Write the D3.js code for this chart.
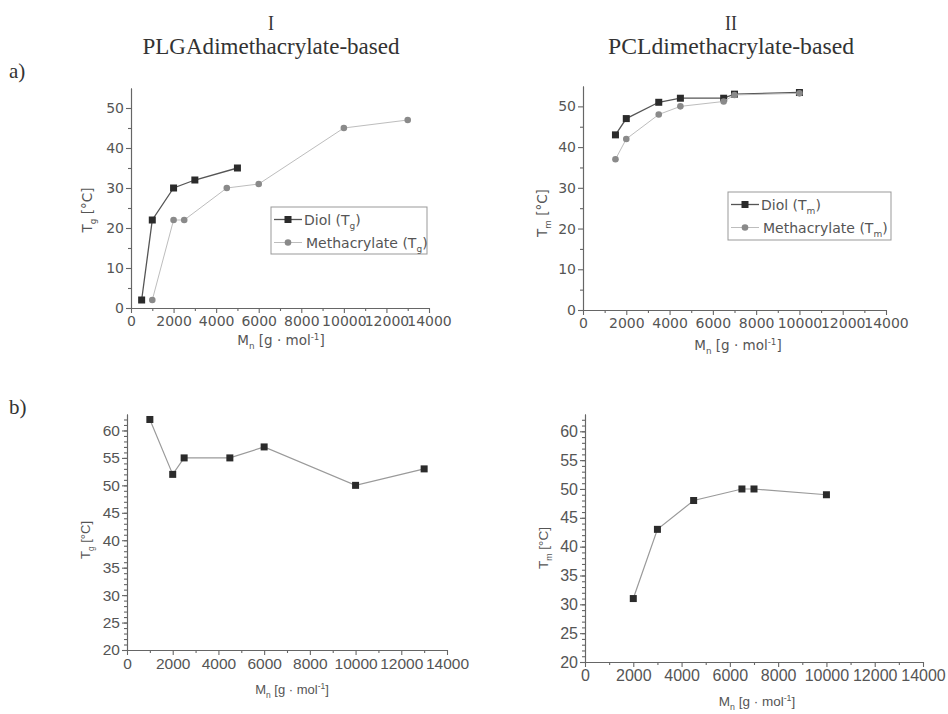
<!DOCTYPE html>
<html lang="en">
<head>
<meta charset="utf-8">
<title>Tg / Tm vs Mn</title>
<style>
  body { margin: 0; background: #fff; }
  .axis path, .axis line { stroke: #666; stroke-width: 1.1; }
  .axis text { fill: #555; }
</style>
</head>
<body>
<svg id="chart" width="948" height="714"></svg>
<script src="https://cdn.jsdelivr.net/npm/d3@7"></script>
<script>
// ---- data ----
var mnDiolI  = [500, 1000, 2000, 3000, 5000];
var tgDiolI  = [2, 22, 30, 32, 35];
var mnMethI  = [1000, 2000, 2500, 4500, 6000, 10000, 13000];
var tgMethI  = [2, 22, 22, 30, 31, 45, 47];

var mnDiolII = [1500, 2000, 3500, 4500, 6500, 7000, 10000];
var tmDiolII = [43, 47, 51, 52, 52, 53, 53.4];
var mnMethII = [1500, 2000, 3500, 4500, 6500, 7000, 10000];
var tmMethII = [37, 42, 48, 50, 51.2, 52.8, 53.2];

var mnNetI   = [1000, 2000, 2500, 4500, 6000, 10000, 13000];
var tgNetI   = [62, 52, 55, 55, 57, 50, 53];
var mnNetII  = [2000, 3000, 4500, 6500, 7000, 10000];
var tmNetII  = [31, 43, 48, 50, 50, 49];

var xTicks   = [0, 2000, 4000, 6000, 8000, 10000, 12000, 14000];
var yTicksA  = [0, 10, 20, 30, 40, 50];
var yTicksB  = [20, 25, 30, 35, 40, 45, 50, 55, 60];

var svg = d3.select('#chart');

function zip(xs, ys) { return xs.map(function (x, i) { return {x: x, y: ys[i]}; }); }

// headings
var serif = '"Liberation Serif", "Times New Roman", serif';
[[271, 'I', 'PLGAdimethacrylate-based'], [731, 'II', 'PCLdimethacrylate-based']].forEach(function (h) {
    svg.append('text').attr('x', h[0]).attr('y', 30).attr('text-anchor', 'middle')
        .style('font-family', serif).style('font-size', '22px').attr('fill', '#333')
        .attr('textLength', h[1].length * 6).attr('lengthAdjust', 'spacingAndGlyphs').text(h[1]);
    svg.append('text').attr('x', h[0]).attr('y', 54).attr('text-anchor', 'middle')
        .style('font-family', serif).style('font-size', '24px').attr('fill', '#333')
        .attr('textLength', h[0] < 500 ? 257 : 246).attr('lengthAdjust', 'spacingAndGlyphs').text(h[2]);
});
svg.append('text').attr('x', 9).attr('y', 78).style('font-family', serif).style('font-size', '21px').attr('fill', '#333').text('a)');
svg.append('text').attr('x', 9).attr('y', 414).style('font-family', serif).style('font-size', '21px').attr('fill', '#333').text('b)');

function panel(cfg) {
    var x = d3.scaleLinear().domain([0, 14000]).range(cfg.xr);
    var y = d3.scaleLinear().domain(cfg.yd).range(cfg.yr);
    var g = svg.append('g');

    // minor ticks
    g.append('g').attr('class', 'axis').attr('transform', 'translate(0,' + cfg.yr[0] + ')')
        .call(d3.axisBottom(x).tickValues(d3.range(1000, 14000, 2000)).tickSize(3).tickSizeOuter(0).tickFormat(''));
    g.append('g').attr('class', 'axis').attr('transform', 'translate(' + cfg.xr[0] + ',0)')
        .call(d3.axisLeft(y).tickValues(cfg.yMinor).tickSize(3).tickSizeOuter(0).tickFormat(''));

    // major axes
    var xa = g.append('g').attr('class', 'axis').attr('transform', 'translate(0,' + cfg.yr[0] + ')')
        .call(d3.axisBottom(x).tickValues(xTicks).tickSize(5).tickSizeOuter(0).tickPadding(cfg.xPad).tickFormat(d3.format('d')));
    var ya = g.append('g').attr('class', 'axis').attr('transform', 'translate(' + cfg.xr[0] + ',0)')
        .call(d3.axisLeft(y).tickValues(cfg.yTicks).tickSize(5).tickSizeOuter(0).tickPadding(2).tickFormat(d3.format('d')));
    [xa, ya].forEach(function (a) {
        a.selectAll('text').style('font-family', cfg.font).style('font-size', cfg.fs + 'px');
    });

    // axis titles
    var xl = g.append('text').attr('x', cfg.xLab[0]).attr('y', cfg.xLab[1]).attr('text-anchor', 'middle')
        .style('font-family', cfg.font).style('font-size', cfg.lfs + 'px').attr('fill', '#555');
    xl.append('tspan').text('M');
    xl.append('tspan').attr('dy', 4).style('font-size', (cfg.lfs * 0.65) + 'px').text('n');
    xl.append('tspan').attr('dy', -4).text(' [g · mol');
    xl.append('tspan').attr('dy', -5).style('font-size', (cfg.lfs * 0.65) + 'px').text('-1');
    xl.append('tspan').attr('dy', 5).text(']');

    var yl = g.append('text').attr('transform', 'translate(' + cfg.yLab[0] + ',' + cfg.yLab[1] + ') rotate(-90)')
        .attr('text-anchor', 'middle').style('font-family', cfg.font).style('font-size', cfg.lfs + 'px').attr('fill', '#555');
    yl.append('tspan').text('T');
    yl.append('tspan').attr('dy', 4).style('font-size', (cfg.lfs * 0.65) + 'px').text(cfg.sub);
    yl.append('tspan').attr('dy', -4).text(' [°C]');

    var line = d3.line().x(function (d) { return x(d.x); }).y(function (d) { return y(d.y); });

    cfg.series.forEach(function (s) {
        var pts = zip(s.xs, s.ys);
        g.append('path').datum(pts).attr('d', line).attr('fill', 'none')
            .attr('stroke', s.line).attr('stroke-width', s.lw);
        if (s.shape === 'square') {
            g.selectAll(null).data(pts).enter().append('rect')
                .attr('x', function (d) { return x(d.x) - 3.5; })
                .attr('y', function (d) { return y(d.y) - 3.5; })
                .attr('width', 7).attr('height', 7).attr('fill', s.mark);
        } else {
            g.selectAll(null).data(pts).enter().append('circle')
                .attr('cx', function (d) { return x(d.x); })
                .attr('cy', function (d) { return y(d.y); })
                .attr('r', 3.3).attr('fill', s.mark);
        }
    });

    if (cfg.legend) {
        var L = cfg.legend;
        var lg = g.append('g').attr('transform', 'translate(' + L.x + ',' + L.y + ')');
        lg.append('rect').attr('width', L.w).attr('height', L.h).attr('fill', '#fff')
            .attr('stroke', '#999').attr('stroke-width', 1);
        cfg.series.forEach(function (s, i) {
            var cy = L.rows[i];
            lg.append('line').attr('x1', 3).attr('x2', 31).attr('y1', cy).attr('y2', cy)
                .attr('stroke', s.line).attr('stroke-width', s.lw);
            if (s.shape === 'square') {
                lg.append('rect').attr('x', 13.5).attr('y', cy - 3.5).attr('width', 7).attr('height', 7).attr('fill', s.mark);
            } else {
                lg.append('circle').attr('cx', 17).attr('cy', cy).attr('r', 3.3).attr('fill', s.mark);
            }
            var t = lg.append('text').attr('x', 33 + i * 2).attr('y', cy + 5)
                .style('font-family', cfg.font).style('font-size', '14px').attr('fill', '#555');
            t.append('tspan').text(s.name + ' (T');
            t.append('tspan').attr('dy', 4).style('font-size', '9px').text(cfg.sub);
            t.append('tspan').attr('dy', -4).text(')');
        });
    }
}

var sansA = '"DejaVu Sans", Verdana, sans-serif';
var sansB = '"Liberation Sans", Arial, sans-serif';

panel({
    xr: [131, 429], yd: [0, 55], yr: [308, 88], yTicks: yTicksA, yMinor: d3.range(5, 55, 10),
    font: sansA, fs: 14, lfs: 13.5, xPad: 3, sub: 'g',
    xLab: [281, 345], yLab: [92, 210],
    series: [
        {name: 'Diol', xs: mnDiolI, ys: tgDiolI, shape: 'square', mark: '#2b2b2b', line: '#555', lw: 1.3},
        {name: 'Methacrylate', xs: mnMethI, ys: tgMethI, shape: 'circle', mark: '#8a8a8a', line: '#bdbdbd', lw: 1}
    ],
    legend: {x: 271, y: 207, w: 156, h: 47, rows: [12.5, 35.5]}
});

panel({
    xr: [583, 886], yd: [0, 55], yr: [310, 86], yTicks: yTicksA, yMinor: d3.range(5, 55, 10),
    font: sansA, fs: 14, lfs: 13.5, xPad: 3, sub: 'm',
    xLab: [738, 350], yLab: [547, 213],
    series: [
        {name: 'Diol', xs: mnDiolII, ys: tmDiolII, shape: 'square', mark: '#2b2b2b', line: '#555', lw: 1.3},
        {name: 'Methacrylate', xs: mnMethII, ys: tmMethII, shape: 'circle', mark: '#8a8a8a', line: '#bdbdbd', lw: 1}
    ],
    legend: {x: 728, y: 192, w: 163, h: 48, rows: [12.5, 35.5]}
});

panel({
    xr: [127, 447], yd: [20, 63], yr: [650, 414], yTicks: yTicksB, yMinor: d3.range(21, 63, 1),
    font: sansB, fs: 15.5, lfs: 13, xPad: 3, sub: 'g',
    xLab: [292, 694], yLab: [90, 540],
    series: [
        {name: 'Net', xs: mnNetI, ys: tgNetI, shape: 'square', mark: '#2b2b2b', line: '#9a9a9a', lw: 1.2}
    ]
});

panel({
    xr: [585, 923], yd: [20, 63], yr: [662, 414], yTicks: yTicksB, yMinor: d3.range(21, 63, 1),
    font: sansB, fs: 16, lfs: 13.5, xPad: 3, sub: 'm',
    xLab: [757, 706], yLab: [548, 548],
    series: [
        {name: 'Net', xs: mnNetII, ys: tmNetII, shape: 'square', mark: '#2b2b2b', line: '#9a9a9a', lw: 1.2}
    ]
});
</script>
</body>
</html>
